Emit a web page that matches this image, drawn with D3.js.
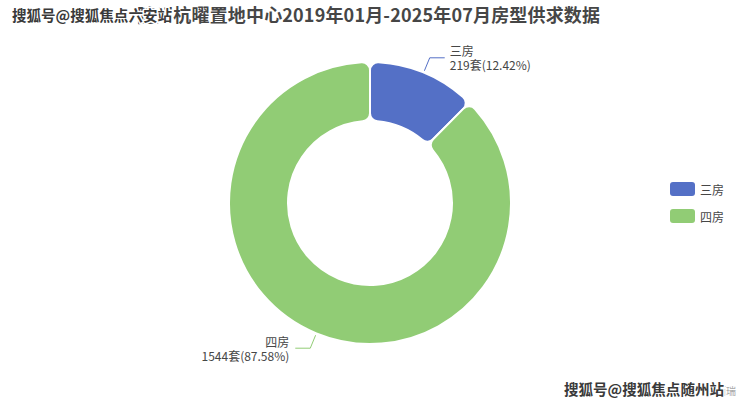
<!DOCTYPE html>
<html>
<head>
<meta charset="utf-8">
<script src="https://cdn.jsdelivr.net/npm/d3@7"></script>
<style>
  html, body { margin: 0; padding: 0; background: #fff; }
  svg { display: block; font-family: "Noto Sans CJK SC", "Noto Sans", sans-serif; }
</style>
</head>
<body>
<svg id="chart" width="740" height="406"></svg>
<script>
const titleText = "随州杭曜置地中心2019年01月-2025年07月房型供求数据";
const categories = ["三房", "四房"];
const values = [219, 1544];
const percents = ["12.42%", "87.58%"];
const colors = ["#5470c6", "#91cc75"];
const unit = "套";
const watermarkTop = "搜狐号@搜狐焦点六安站";
const watermarkBottom = "搜狐号@搜狐焦点随州站";
const sourceText = "数据来源：克而瑞";

const svg = d3.select("#chart");
const cx = 370, cy = 203, outerR = 141, innerR = 82;

// Title
svg.append("text")
  .attr("x", 137).attr("y", 22)
  .attr("textLength", 463).attr("lengthAdjust", "spacing")
  .attr("font-size", 18).attr("font-weight", "bold")
  .attr("fill", "#464646")
  .text(titleText);

const data = categories.map((c, i) => ({ name: c, value: values[i], pct: percents[i], color: colors[i] }));

const pie = d3.pie().sort(null).value(d => d.value);
const arcs = pie(data);
const arc = d3.arc().innerRadius(innerR).outerRadius(outerR).cornerRadius(8);

const g = svg.append("g").attr("transform", `translate(${cx},${cy})`);
g.selectAll("path.slice").data(arcs).enter().append("path")
  .attr("class", "slice")
  .attr("d", arc)
  .attr("fill", d => d.data.color)
  .attr("stroke", "#fff").attr("stroke-width", 2).attr("stroke-linejoin", "round");

// labels
arcs.forEach(a => {
  const mid = (a.startAngle + a.endAngle) / 2;
  const pt = r => [Math.sin(mid) * r, -Math.cos(mid) * r];
  const p1 = pt(outerR + 2);
  const p2 = pt(outerR + 16);
  const right = Math.sin(mid) >= 0;
  const p3 = [p2[0] + (right ? 15 : -15), p2[1]];
  g.append("polyline")
    .attr("points", [p1, p2, p3].map(p => p.join(",")).join(" "))
    .attr("fill", "none").attr("stroke", a.data.color).attr("stroke-width", 1);
  const tx = p3[0] + (right ? 5 : -6);
  const anchor = right ? "start" : "end";
  g.append("text")
    .attr("x", tx).attr("y", p3[1] - 7).attr("dominant-baseline", "central")
    .attr("text-anchor", anchor)
    .attr("font-size", 12).attr("fill", "#464646").text(a.data.name);
  g.append("text")
    .attr("x", tx).attr("y", p3[1] + 7).attr("dominant-baseline", "central")
    .attr("text-anchor", anchor)
    .attr("font-size", 12).attr("fill", "#464646")
    .text(`${a.data.value}${unit}(${a.data.pct})`);
});

// legend
const lg = svg.append("g").attr("transform", "translate(670,182)");
data.forEach((d, i) => {
  const y = i * 27;
  lg.append("rect").attr("x", 0).attr("y", y).attr("width", 25).attr("height", 14)
    .attr("rx", 3).attr("fill", d.color);
  lg.append("text").attr("x", 30).attr("y", y + 7).attr("dominant-baseline", "central")
    .attr("font-size", 12).attr("fill", "#464646").text(d.name);
});

// source text (partially covered by watermark)
svg.append("text").attr("x", 736).attr("y", 395).attr("text-anchor", "end")
  .attr("font-size", 10).attr("fill", "#aaa").text(sourceText);

// watermarks
function watermark(x, y, txt) {
  svg.append("text").attr("x", x).attr("y", y)
    .attr("font-size", 14.5).attr("font-weight", "bold")
    .attr("fill", "#3a3a3a").attr("stroke", "#fff").attr("stroke-width", 3)
    .attr("paint-order", "stroke").attr("stroke-linejoin", "round")
    .attr("textLength", 160).attr("lengthAdjust", "spacingAndGlyphs")
    .text(txt);
}
watermark(12, 21, watermarkTop);
watermark(564, 395, watermarkBottom);
</script>
</body>
</html>
